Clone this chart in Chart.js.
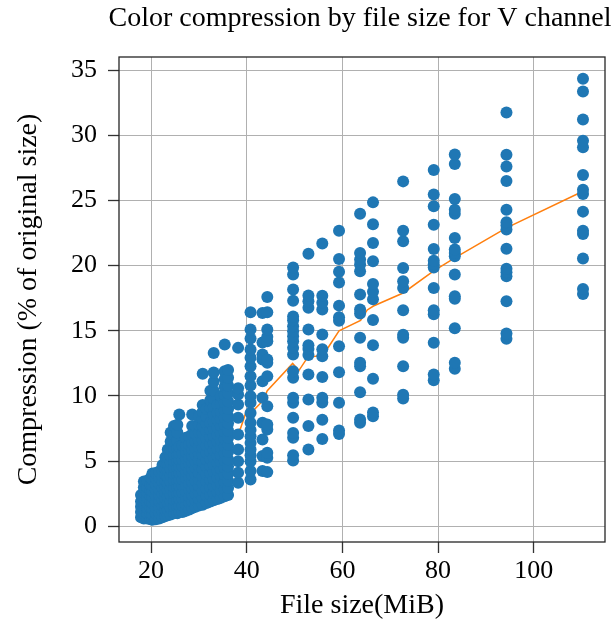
<!DOCTYPE html>
<html>
<head>
<meta charset="utf-8">
<title>Color compression by file size for V channel</title>
<script src="https://cdn.jsdelivr.net/npm/chart.js@4.4.1/dist/chart.umd.min.js"></script>
<style>
  html, body { margin: 0; padding: 0; background: #fff; }
  canvas { display: block; }
</style>
</head>
<body>
<canvas id="chart" width="616" height="622"></canvas>
<script>
const chartTitle = "Color compression by file size for V channel";
const xLabel = "File size(MiB)";
const yLabel = "Compression (% of original size)";
const xTicks = [20, 40, 60, 80, 100];
const yTicks = [0, 5, 10, 15, 20, 25, 30, 35];

// one file size per column of dots
const fileSizes = [
    17.9, 18.5, 19.2, 19.9, 20.3, 21.0, 21.7, 22.4, 23.0, 23.5,
    24.1, 24.8, 25.5, 25.9, 26.6, 27.3, 28.0, 28.6, 29.3, 30.0,
    30.8, 31.6, 32.4, 33.1, 33.9, 34.6, 35.4, 36.1, 38.2, 40.8,
    43.3, 44.3, 49.7, 52.9, 55.8, 59.3, 63.7, 66.4, 72.7, 79.1,
    83.5, 94.3, 110.3
];

const compressionBySize = [
    [0.7, 1.1, 1.5, 1.9, 2.4],
    [0.6, 1.0, 1.4, 1.8, 2.2, 2.6, 3.0, 3.45],
    [0.6, 1.0, 1.4, 1.8, 2.2, 2.6, 3.0, 3.5],
    [0.55, 0.95, 1.4, 1.85, 2.3, 2.75, 3.2, 3.7],
    [0.5, 0.9, 1.35, 1.8, 2.25, 2.7, 3.15, 3.6, 4.05],
    [0.55, 1.0, 1.45, 1.9, 2.35, 2.8, 3.25, 3.7, 4.1],
    [0.6, 1.05, 1.5, 1.95, 2.4, 2.85, 3.3, 3.75, 4.2],
    [0.7, 1.15, 1.6, 2.05, 2.5, 2.95, 3.4, 3.85, 4.3, 4.7],
    [0.8, 1.25, 1.7, 2.15, 2.6, 3.05, 3.5, 3.95, 4.4, 4.85, 5.3],
    [0.85, 1.3, 1.8, 2.3, 2.8, 3.3, 3.8, 4.3, 4.8, 5.3, 5.9],
    [0.9, 1.4, 1.9, 2.4, 2.9, 3.4, 3.9, 4.4, 4.9, 5.4, 5.9, 6.5, 7.2],
    [1.0, 1.5, 2.0, 2.5, 3.0, 3.5, 4.0, 4.5, 5.0, 5.5, 6.0, 6.5, 7.0, 7.7],
    [1.0, 1.5, 2.0, 2.5, 3.0, 3.5, 4.0, 4.5, 5.0, 5.5, 6.0, 6.6, 7.2, 7.8],
    [1.1, 1.6, 2.1, 2.6, 3.1, 3.6, 4.1, 4.6, 5.1, 5.6, 6.1, 8.58],
    [1.1, 1.6, 2.1, 2.6, 3.1, 3.6, 4.1, 4.6, 5.1, 5.6, 6.2],
    [1.2, 1.7, 2.2, 2.7, 3.2, 3.7, 4.2, 4.7, 5.2, 5.7, 6.2, 6.8],
    [1.3, 1.8, 2.3, 2.8, 3.3, 3.8, 4.3, 4.8, 5.3, 5.8, 6.3, 6.9],
    [1.4, 1.9, 2.4, 2.9, 3.4, 3.9, 4.4, 4.9, 5.4, 5.9, 6.4, 7.05, 7.7, 8.58],
    [1.5, 2.0, 2.5, 3.0, 3.5, 4.0, 4.5, 5.0, 5.5, 6.0, 6.5, 7.1, 7.7],
    [1.6, 2.1, 2.6, 3.1, 3.6, 4.1, 4.6, 5.1, 5.6, 6.1, 6.6, 7.2, 7.8, 8.4],
    [1.65, 2.2, 2.75, 3.3, 3.85, 4.4, 4.95, 5.5, 6.05, 6.6, 7.15, 7.7, 8.25, 8.8, 9.3, 11.7],
    [1.8, 2.35, 2.9, 3.45, 4.0, 4.55, 5.1, 5.65, 6.2, 6.75, 7.3, 7.85, 8.4, 9.0],
    [1.9, 2.45, 3.0, 3.55, 4.1, 4.65, 5.2, 5.75, 6.3, 6.85, 7.4, 7.95, 9.1, 9.7, 10.4],
    [2.0, 2.55, 3.1, 3.65, 4.2, 4.75, 5.3, 5.85, 6.4, 6.95, 7.5, 8.05, 8.6, 9.2, 9.8, 10.4, 11.1, 11.8, 13.3],
    [2.1, 2.65, 3.2, 3.75, 4.3, 4.85, 5.4, 5.95, 6.5, 7.05, 7.6, 8.15, 8.7, 9.3],
    [2.2, 2.75, 3.3, 3.85, 4.4, 4.95, 5.5, 6.05, 6.6, 7.15, 7.7, 8.25, 8.8, 9.4, 10.0],
    [2.3, 2.85, 3.4, 3.95, 4.5, 5.05, 5.6, 6.15, 6.7, 7.25, 7.8, 8.35, 8.9, 9.5, 10.1, 10.7, 11.3, 11.9, 13.95],
    [2.4, 2.95, 3.5, 4.05, 4.6, 5.15, 5.7, 6.25, 6.8, 7.35, 7.9, 8.45, 9.0, 9.6, 10.2, 10.8, 11.4, 12.0],
    [3.35, 4.11, 5.0, 5.9, 7.05, 8.33, 9.35, 10.11, 10.6, 13.69],
    [3.6, 4.24, 5.0, 5.45, 5.9, 6.4, 6.92, 7.4, 7.94, 8.7, 9.48, 9.98, 10.8, 11.52, 12.28, 12.93, 13.56, 14.4, 15.1, 16.42],
    [4.24, 5.39, 6.67, 7.94, 9.86, 11.13, 12.8, 13.18, 14.1, 16.37],
    [4.16, 5.26, 5.65, 7.43, 7.82, 9.22, 11.52, 12.54, 12.8, 14.2, 14.54, 15.1, 16.42, 17.6],
    [5.06, 5.45, 6.8, 7.16, 8.33, 9.48, 9.86, 11.39, 11.9, 13.18, 13.69, 14.2, 14.58, 14.97, 15.35, 15.8, 16.1, 17.3, 18.16, 19.31, 19.86],
    [5.9, 7.69, 9.73, 11.65, 13.14, 13.6, 13.9, 15.1, 16.76, 17.27, 17.7, 20.91],
    [6.7, 8.17, 9.5, 9.86, 11.45, 13.05, 13.59, 14.71, 16.63, 17.16, 17.68, 21.7],
    [7.08, 7.36, 9.48, 11.82, 13.82, 15.77, 16.03, 16.93, 18.7, 19.52, 20.51, 22.68],
    [7.94, 8.2, 10.29, 12.28, 12.54, 14.46, 16.32, 16.63, 17.78, 19.56, 20.08, 20.46, 20.97, 23.98],
    [8.45, 8.74, 11.32, 13.9, 15.83, 17.42, 17.99, 18.58, 20.33, 21.74, 23.17, 24.85],
    [9.8, 10.1, 12.28, 14.46, 14.69, 16.57, 18.29, 18.8, 19.82, 21.86, 22.68, 26.46],
    [11.21, 11.65, 14.08, 16.27, 16.57, 18.29, 19.85, 20.1, 20.38, 21.28, 23.14, 24.55, 25.46, 27.33],
    [12.08, 12.54, 15.2, 17.45, 17.65, 19.31, 20.71, 20.97, 21.23, 22.12, 23.98, 24.29, 25.11, 27.79, 28.53],
    [14.38, 14.79, 17.27, 19.18, 19.49, 19.75, 21.3, 22.76, 23.07, 23.32, 24.29, 26.49, 27.6, 28.5, 31.75],
    [17.83, 18.21, 20.54, 22.42, 22.68, 24.14, 25.49, 25.82, 26.95, 29.07, 29.58, 31.2, 33.36, 34.33]
];

// orange mean line, vertices
const meanSizes = [
    17.9, 20.3, 23.0, 25.9, 28.6, 31.6, 32.4, 35.4, 36.1, 38.7,
    39.8, 40.5, 40.8, 41.7, 43.3, 44.3, 49.6, 50.9, 52.8, 54.4,
    55.8, 57.0, 59.3, 63.8, 65.2, 66.5, 72.7, 79.1, 83.5, 94.3, 110.3
];
const meanCompression = [
    1.4, 2.2, 2.9, 3.8, 4.6, 5.3, 5.6, 6.5, 6.9, 7.5,
    8.7, 9.0, 8.45, 9.0, 9.6, 10.4, 12.5, 11.95, 13.0, 13.05,
    13.2, 13.7, 15.0, 15.8, 16.6, 16.9, 17.9, 19.6, 20.6, 22.9, 25.7
];

const points = fileSizes.flatMap((size, i) =>
    compressionBySize[i].map(v => ({ x: size, y: v })));
const meanLine = meanSizes.map((size, i) => ({ x: size, y: meanCompression[i] }));

const serif = '"Liberation Serif", "Times New Roman", serif';

// matplotlib style: full black frame and title centred over the plot area
const frameAndTitle = {
    id: 'frameAndTitle',
    afterDraw(chart) {
        const { ctx, chartArea: a } = chart;
        ctx.save();
        ctx.strokeStyle = '#262626';
        ctx.lineWidth = 1.3;
        ctx.strokeRect(a.left, a.top, a.right - a.left, a.bottom - a.top);
        ctx.fillStyle = '#000';
        ctx.font = '28px ' + serif;
        ctx.textAlign = 'center';
        ctx.textBaseline = 'alphabetic';
        ctx.fillText(chartTitle, (a.left + a.right) / 2 - 2, 26);
        ctx.restore();
    }
};

const gridStyle = {
    color: '#b0b0b0',
    lineWidth: 1,
    tickColor: '#333',
    tickLength: 11,
    tickWidth: 1.3
};

new Chart(document.getElementById('chart'), {
    type: 'scatter',
    data: {
        datasets: [
            {
                label: 'files',
                data: points,
                backgroundColor: '#1f77b4',
                borderWidth: 0,
                pointRadius: 6,
                order: 0
            },
            {
                label: 'mean',
                data: meanLine,
                showLine: true,
                borderColor: '#ff7f0e',
                borderWidth: 1.5,
                pointRadius: 0,
                fill: false,
                tension: 0,
                order: 1
            }
        ]
    },
    options: {
        responsive: false,
        animation: false,
        events: [],
        layout: { padding: { top: 57, right: 11, left: 0, bottom: 0 } },
        plugins: {
            legend: { display: false },
            tooltip: { enabled: false }
        },
        scales: {
            x: {
                type: 'linear',
                min: 13.3,
                max: 114.9,
                afterBuildTicks: s => { s.ticks = xTicks.map(v => ({ value: v })); },
                afterFit: s => { s.height = 80; },
                grid: gridStyle,
                border: { display: false },
                ticks: {
                    color: '#000',
                    font: { family: serif, size: 26 },
                    padding: 3,
                    maxRotation: 0,
                    autoSkip: false
                },
                title: {
                    display: true,
                    text: xLabel,
                    color: '#000',
                    font: { family: serif, size: 28 },
                    padding: { top: 0, bottom: 0 }
                }
            },
            y: {
                type: 'linear',
                min: -1.2,
                max: 36.0,
                afterBuildTicks: s => { s.ticks = yTicks.map(v => ({ value: v })); },
                afterFit: s => { s.width = 119; },
                grid: gridStyle,
                border: { display: false },
                ticks: {
                    color: '#000',
                    font: { family: serif, size: 26 },
                    padding: 11,
                    autoSkip: false
                },
                title: {
                    display: true,
                    text: yLabel,
                    color: '#000',
                    font: { family: serif, size: 28 },
                    padding: { top: 12, bottom: 0 }
                }
            }
        }
    },
    plugins: [frameAndTitle]
});
</script>
</body>
</html>
